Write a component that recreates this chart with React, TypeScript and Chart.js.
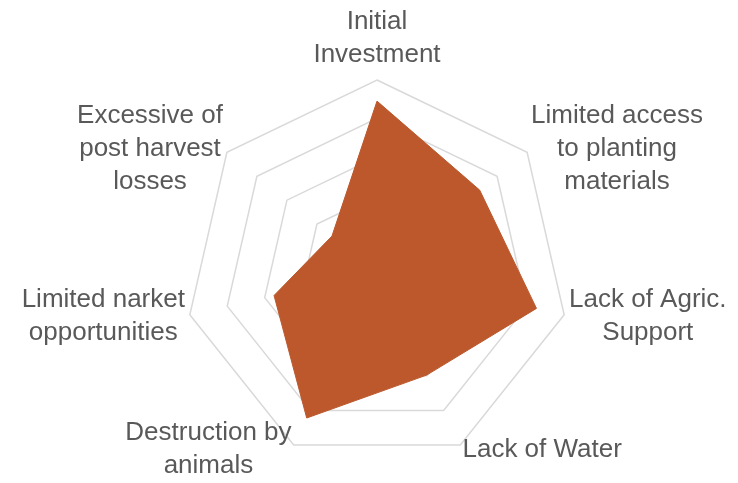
import { useEffect, useRef } from "react";
import { Chart, registerables } from "chart.js";

Chart.register(...registerables);

const categories: string[][] = [
  ["Initial", "Investment"],
  ["Limited access", "to planting", "materials"],
  ["Lack of Agric.", "Support"],
  ["Lack of Water"],
  ["Destruction by", "animals"],
  ["Limited narket", "opportunities"],
  ["Excessive of", "post harvest", "losses"],
];
const seriesValues: number[] = [44.5, 34.2, 42.6, 29.8, 42.2, 27.5, 15];
const scaleMin = 0;
const scaleMax = 50;
const scaleStep = 10;

const FILL = "rgb(188,88,44)";
const GRID = "rgb(217,217,217)";
const TEXT = "#595959";
const FONT = '26px "Liberation Sans", Arial, sans-serif';
const LINE_H = 33;
const LABEL_PAD = 5;

const labelPlugin = {
  id: "excelPointLabels",
  afterDraw(chart: any) {
    const scale = chart.scales.r;
    const ctx = chart.ctx as CanvasRenderingContext2D;
    const labels = chart.data.labels as (string | string[])[];
    ctx.save();
    ctx.font = FONT;
    ctx.fillStyle = TEXT;
    ctx.textBaseline = "middle";
    ctx.textAlign = "center";
    labels.forEach((lab, i) => {
      const lines = Array.isArray(lab) ? lab : [lab];
      const p = scale.getPointPosition(i, scale.drawingArea + LABEL_PAD);
      const w = Math.max(...lines.map((l) => ctx.measureText(l).width));
      const h = lines.length * LINE_H;
      const dx = p.x - scale.xCenter;
      let cx: number;
      if (Math.abs(dx) < 2) cx = p.x;
      else if (dx > 0) cx = p.x + w / 2;
      else cx = p.x - w / 2;
      let top: number;
      if (p.y < scale.yCenter - scale.drawingArea * 0.9) top = p.y - h - 4;
      else top = p.y - h / 2;
      lines.forEach((l, j) => ctx.fillText(l, cx, top + LINE_H * (j + 0.5)));
    });
    ctx.restore();
  },
};

export default function App() {
  const ref = useRef<HTMLCanvasElement | null>(null);
  useEffect(() => {
    if (!ref.current) return;
    const chart = new Chart(ref.current, {
      type: "radar",
      data: {
        labels: categories,
        datasets: [
          {
            data: seriesValues,
            backgroundColor: FILL,
            borderColor: FILL,
            borderWidth: 1,
            fill: true,
            pointRadius: 0,
            pointHoverRadius: 0,
          },
        ],
      },
      options: {
        responsive: false,
        animation: false,
        layout: { padding: { left: 185, right: 169, top: 80, bottom: 19 } },
        plugins: { legend: { display: false }, tooltip: { enabled: false } },
        scales: {
          r: {
            min: scaleMin,
            max: scaleMax,
            ticks: { display: false, stepSize: scaleStep },
            grid: { color: GRID, lineWidth: 1.5 },
            angleLines: { display: false },
            pointLabels: { display: false },
          },
        },
      },
      plugins: [labelPlugin],
    });
    return () => chart.destroy();
  }, []);
  return (
    <div style={{ position: "fixed", left: 0, top: 0, width: 738, height: 483, background: "#fff" }}>
      <canvas ref={ref} width={738} height={483} style={{ display: "block" }} />
    </div>
  );
}
